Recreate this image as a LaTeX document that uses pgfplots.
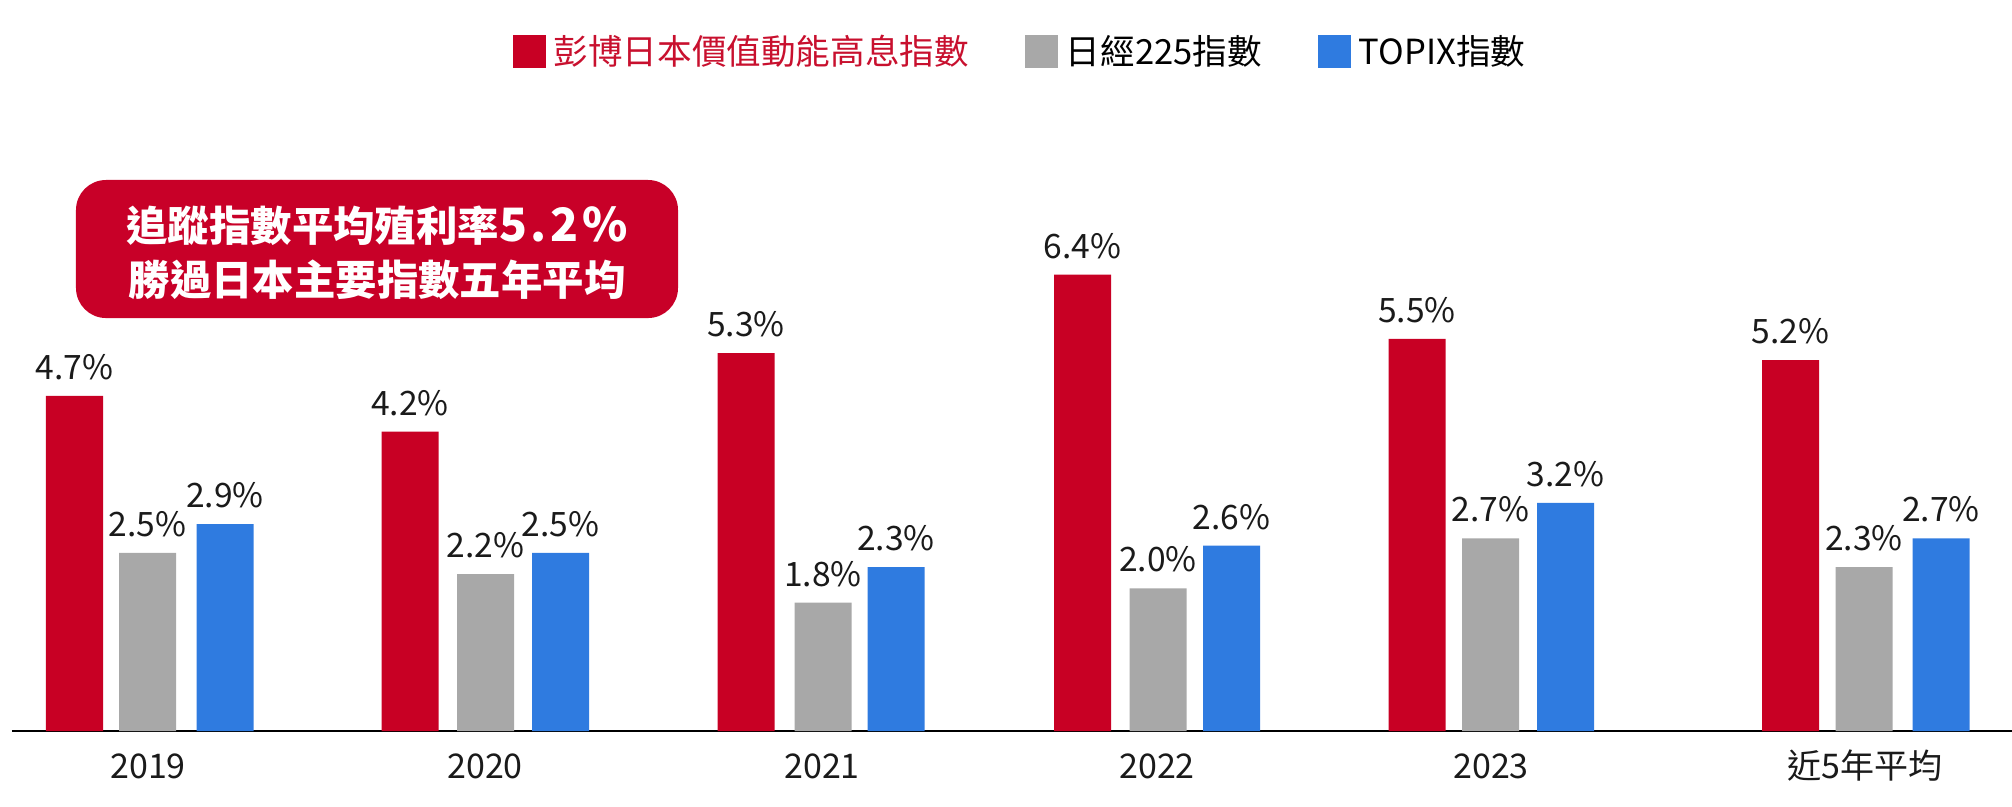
\documentclass[border=0pt]{standalone}
\usepackage{fontspec}
\usepackage{pgfplots}
\pgfplotsset{compat=1.18}
\setmainfont{Noto Sans CJK TC}
\definecolor{barred}{RGB}{200,0,36}
\definecolor{bargray}{RGB}{168,168,168}
\definecolor{barblue}{RGB}{47,123,224}
\definecolor{legred}{RGB}{200,16,46}
\definecolor{boxred}{RGB}{200,0,40}
\definecolor{txt}{RGB}{26,26,26}
\pgfplotsset{sq legend/.style={legend image code/.code={\fill[##1] (0pt,-8.25pt) rectangle (16.5pt,8.25pt);}}}
\begin{document}
\begin{tikzpicture}
\begin{axis}[
  scale only axis,
  x=0.5pt, y=35.65pt,
  xmin=12, xmax=2012, ymin=0, ymax=10.2525,
  axis x line*=bottom, axis y line=none,
  x axis line style={black, line width=0.8pt},
  xtick={148,485,822,1157,1491,1865},
  xticklabels={2019,2020,2021,2022,2023,近5年平均},
  major tick length=0pt,
  xticklabel style={font=\fontsize{17}{20}\selectfont, text=txt, anchor=base, yshift=-23.5pt},
  ytick=\empty,
  ybar,
  bar width=57,
  clip=false,
  /pgf/number format/assume math mode=true,
  nodes near coords={\pgfmathprintnumber[fixed,fixed zerofill,precision=1]{\pgfplotspointmeta}\%},
  every node near coord/.append style={font=\fontsize{16.8}{20}\selectfont, text=txt, yshift=4.5pt},
  legend columns=3,
  legend style={at={(0.5055,0.930)}, anchor=center, draw=none, fill=none,
    font=\fontsize{17.3}{20}\selectfont,
    nodes={inner xsep=4pt, inner ysep=2pt},
    /tikz/every even column/.append style={column sep=24pt}},
]
\addplot[fill=barred, draw=none, bar shift=0pt, sq legend] coordinates {(74.5,4.7) (410,4.2) (746,5.3) (1082.5,6.4) (1417,5.5) (1790.5,5.2)};
\addlegendentry{\textcolor{legred}{彭博日本價值動能高息指數}}
\addplot[fill=bargray, draw=none, bar shift=0pt, sq legend] coordinates {(147.5,2.5) (485.5,2.2) (823,1.8) (1158,2.0) (1490.5,2.7) (1864,2.3)};
\addlegendentry{日經225指數}
\addplot[fill=barblue, draw=none, bar shift=0pt, sq legend] coordinates {(225,2.9) (560.5,2.5) (896,2.3) (1231.5,2.6) (1565.5,3.2) (1941,2.7)};
\addlegendentry{TOPIX指數}
\fill[boxred, rounded corners=15pt] (axis cs:76,5.792) rectangle (axis cs:678,7.728);
\node[text=white, font=\bfseries\fontsize{20.7}{24}\selectfont] at (axis cs:377,7.083) {追蹤指數平均殖利率{\fontsize{23}{26}\selectfont\addfontfeature{LetterSpace=8}5.2\%}};
\node[text=white, font=\bfseries\fontsize{20.7}{24}\selectfont] at (axis cs:377,6.325) {勝過日本主要指數五年平均};
\coordinate (BL) at (axis cs:0,-1.052);
\coordinate (TR) at (axis cs:2012,10.2525);
\end{axis}
\pgfresetboundingbox
\useasboundingbox (BL) rectangle (TR);
\end{tikzpicture}
\end{document}
